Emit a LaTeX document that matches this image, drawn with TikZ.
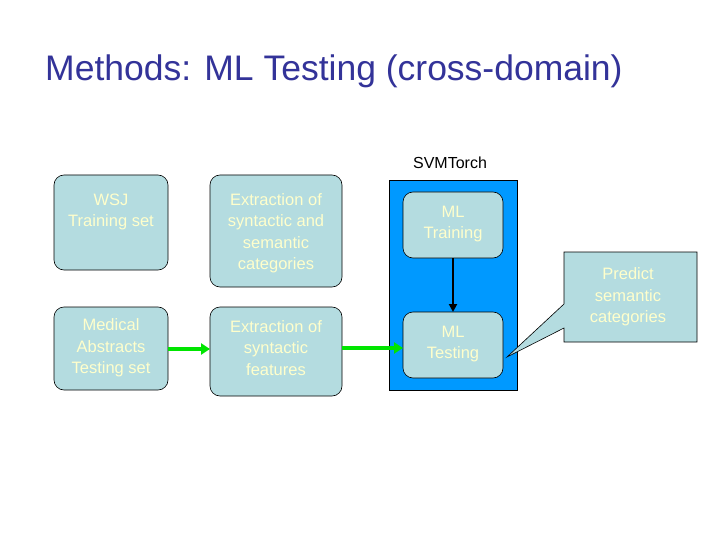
\documentclass[tikz,border=0pt]{standalone}
\usepackage{fontspec}
\setmainfont{Liberation Sans}
\usetikzlibrary{arrows.meta}
\definecolor{boxfill}{HTML}{B4DCE0}
\definecolor{boxtext}{HTML}{FFFFCC}
\definecolor{svmblue}{HTML}{0099FF}
\definecolor{titleblue}{HTML}{333399}
\begin{document}
\begin{tikzpicture}[x=1pt,y=-1pt,
  box/.style={draw=black,fill=boxfill,rounded corners=10pt,line width=0.6pt},
  txt/.style={text=boxtext,font=\fontsize{16.5}{21.5}\selectfont,align=center},
  garrow/.style={draw=green!90!black,line width=4pt,-{Triangle[length=9pt,width=11pt]}}]
\useasboundingbox (0,0) rectangle (720,540);
\fill[white] (0,0) rectangle (720,540);
\node[anchor=base west,inner sep=0pt,text=titleblue,font=\fontsize{35.5}{40}\selectfont] (title) at (45,81) {Methods: ML Testing (cross-domain)};
\node[font=\fontsize{16}{19}\selectfont] (svmlab) at (450,163) {SVMTorch};
\draw[fill=svmblue,line width=0.6pt] (389,180) rectangle (517,390);
\coordinate (svm) at (453,285);
\draw[box] (54,175) rectangle (168,270);
\node[txt] (wsj) at (111,212) {WSJ\\Training set};
\draw[box] (210,175) rectangle (342,287);
\node[txt] (ext1) at (276,233) {Extraction of\\syntactic and\\semantic\\categories};
\draw[box] (54,307) rectangle (168,390);
\node[txt] (med) at (111,348) {Medical\\Abstracts\\Testing set};
\draw[box] (210,307) rectangle (342,396);
\node[txt] (ext2) at (276,348) {Extraction of\\syntactic\\features};
\draw[box] (403,192) rectangle (503,258);
\node[txt] (mltr) at (453,224) {ML\\Training};
\draw[box] (403,312) rectangle (503,378);
\node[txt] (mlte) at (453,344) {ML\\Testing};
\coordinate (medR) at (168,349);
\coordinate (ext2L) at (210,349);
\coordinate (ext2R) at (342,348);
\coordinate (mlteL) at (403,348);
\draw[garrow] (medR) -- (ext2L);
\draw[garrow] (ext2R) -- (mlteL);
\coordinate (mltrB) at (453,258);
\coordinate (mlteT) at (453,312);
\draw[line width=2.5pt,-{Triangle[length=8pt,width=8pt]}] (mltrB) -- (mlteT);
\coordinate (tip) at (507,357);
\draw[fill=boxfill,line width=0.6pt] (564,252) -- (697,252) -- (697,342) -- (564,342) -- (564,328) -- (tip) -- (564,304) -- cycle;
\node[txt] (pred) at (628,297) {Predict\\semantic\\categories};
\end{tikzpicture}
\end{document}
